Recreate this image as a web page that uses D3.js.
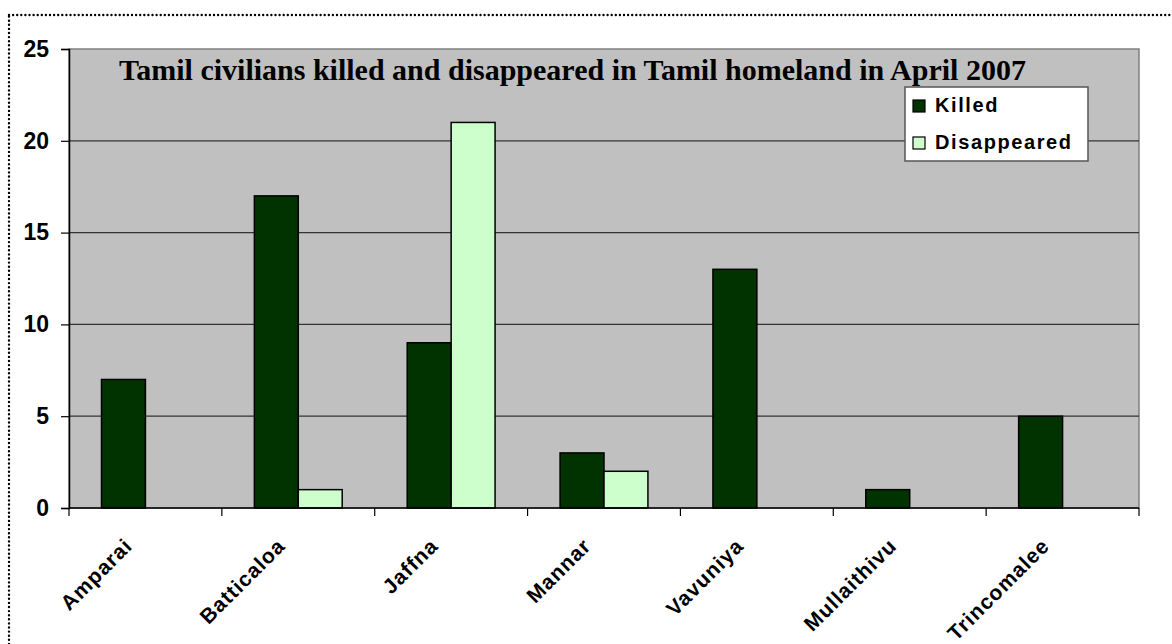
<!DOCTYPE html>
<html>
<head>
<meta charset="utf-8">
<script src="https://cdn.jsdelivr.net/npm/d3@7"></script>
<style>
  html, body { margin: 0; padding: 0; background: #fff; overflow: hidden; }
  svg { display: block; }
</style>
</head>
<body>
<div id="chart"></div>
<script>
// Chart data
const districts = ['Amparai', 'Batticaloa', 'Jaffna', 'Mannar', 'Vavuniya', 'Mullaithivu', 'Trincomalee'];
const killed = [7, 17, 9, 3, 13, 1, 5];
const disappeared = [0, 1, 21, 2, 0, 0, 0];
const seriesNames = ['Killed', 'Disappeared'];
const seriesColors = ['#003300', '#ccffcc'];
const yTicks = [0, 5, 10, 15, 20, 25];
const titleText = 'Tamil civilians killed and disappeared in Tamil homeland in April 2007';

const width = 1172;
const height = 644;
const plot = { left: 69, top: 49, right: 1139, bottom: 508 };

const svg = d3.select('#chart')
  .append('svg')
  .attr('width', width)
  .attr('height', height);

// dotted frame round the chart object
svg.append('rect')
  .attr('x', 9)
  .attr('y', 15)
  .attr('width', 1300)
  .attr('height', 800)
  .attr('fill', 'none')
  .attr('stroke', '#000')
  .attr('stroke-width', 2.4)
  .attr('stroke-linecap', 'round')
  .attr('stroke-dasharray', '0,4.1');

const x = d3.scaleBand()
  .domain(districts)
  .range([plot.left, plot.right]);

const x1 = d3.scaleBand()
  .domain(seriesNames)
  .range([0, x.bandwidth()])
  .paddingInner(0)
  .paddingOuter(0.74);

const y = d3.scaleLinear()
  .domain([0, 25])
  .range([plot.bottom, plot.top]);

// plot area
svg.append('rect')
  .attr('x', plot.left)
  .attr('y', plot.top)
  .attr('width', plot.right - plot.left)
  .attr('height', plot.bottom - plot.top)
  .attr('fill', '#c0c0c0')
  .attr('stroke', '#808080')
  .attr('stroke-width', 1.5);

// gridlines
svg.append('g')
  .selectAll('line')
  .data(yTicks.filter(t => t > 0 && t < 25))
  .join('line')
  .attr('x1', plot.left)
  .attr('x2', plot.right)
  .attr('y1', d => y(d))
  .attr('y2', d => y(d))
  .attr('stroke', '#333')
  .attr('stroke-width', 1.2);

// bars
const rows = districts.map((d, i) => ({ district: d, values: [killed[i], disappeared[i]] }));

const groups = svg.append('g')
  .selectAll('g')
  .data(rows)
  .join('g')
  .attr('transform', d => `translate(${x(d.district)},0)`);

groups.selectAll('rect')
  .data(d => d.values.map((v, i) => ({ name: seriesNames[i], value: v, color: seriesColors[i] })))
  .join('rect')
  .filter(d => d.value > 0)
  .attr('x', d => x1(d.name))
  .attr('width', x1.bandwidth())
  .attr('y', d => y(d.value))
  .attr('height', d => y(0) - y(d.value))
  .attr('fill', d => d.color)
  .attr('stroke', '#000')
  .attr('stroke-width', 1.5);

// y axis
const yAxis = svg.append('g')
  .attr('transform', `translate(${plot.left},0)`)
  .call(d3.axisLeft(y).tickValues(yTicks).tickSize(8).tickPadding(12));
yAxis.select('.domain').attr('stroke', '#000').attr('stroke-width', 1.5);
yAxis.selectAll('.tick line').attr('stroke', '#000').attr('stroke-width', 1.2);
yAxis.selectAll('.tick text')
  .attr('font-family', 'Liberation Sans, Arial, sans-serif')
  .attr('font-weight', 'bold')
  .attr('font-size', 23)
  .attr('fill', '#000');

// x axis
const xAxis = svg.append('g')
  .attr('transform', `translate(0,${plot.bottom})`);
xAxis.append('line')
  .attr('x1', plot.left)
  .attr('x2', plot.right)
  .attr('stroke', '#000')
  .attr('stroke-width', 1.5);
xAxis.selectAll('.xtick')
  .data(districts.map(d => x(d)).concat([plot.right]))
  .join('line')
  .attr('class', 'xtick')
  .attr('x1', d => d)
  .attr('x2', d => d)
  .attr('y1', 0)
  .attr('y2', 8)
  .attr('stroke', '#000')
  .attr('stroke-width', 1.2);

svg.append('g')
  .selectAll('text')
  .data(districts)
  .join('text')
  .attr('transform', d => `translate(${x(d) + x.bandwidth() / 2 - 17},${plot.bottom + 34}) rotate(-45)`)
  .attr('text-anchor', 'end')
  .attr('dy', '0.35em')
  .attr('font-family', 'Liberation Sans, Arial, sans-serif')
  .attr('font-weight', 'bold')
  .attr('font-size', 21)
  .attr('letter-spacing', 1)
  .attr('fill', '#000')
  .text(d => d);

// title
svg.append('text')
  .attr('x', 119)
  .attr('y', 80)
  .attr('font-family', 'Liberation Serif, Times New Roman, serif')
  .attr('font-weight', 'bold')
  .attr('font-size', 30)
  .attr('fill', '#000')
  .text(titleText);

// legend
const legend = svg.append('g').attr('transform', 'translate(905,87)');
legend.append('rect')
  .attr('width', 183)
  .attr('height', 74)
  .attr('fill', '#fff')
  .attr('stroke', '#555')
  .attr('stroke-width', 1.5);

const items = legend.selectAll('.item')
  .data(seriesNames)
  .join('g')
  .attr('class', 'item')
  .attr('transform', (d, i) => `translate(8,${13 + i * 37})`);

items.append('rect')
  .attr('width', 12)
  .attr('height', 12)
  .attr('fill', (d, i) => seriesColors[i])
  .attr('stroke', '#000')
  .attr('stroke-width', 1.2);

items.append('text')
  .attr('x', 22)
  .attr('y', 12)
  .attr('font-family', 'Liberation Sans, Arial, sans-serif')
  .attr('font-weight', 'bold')
  .attr('font-size', 20)
  .attr('letter-spacing', 1.6)
  .attr('fill', '#000')
  .text(d => d);
</script>
</body>
</html>
